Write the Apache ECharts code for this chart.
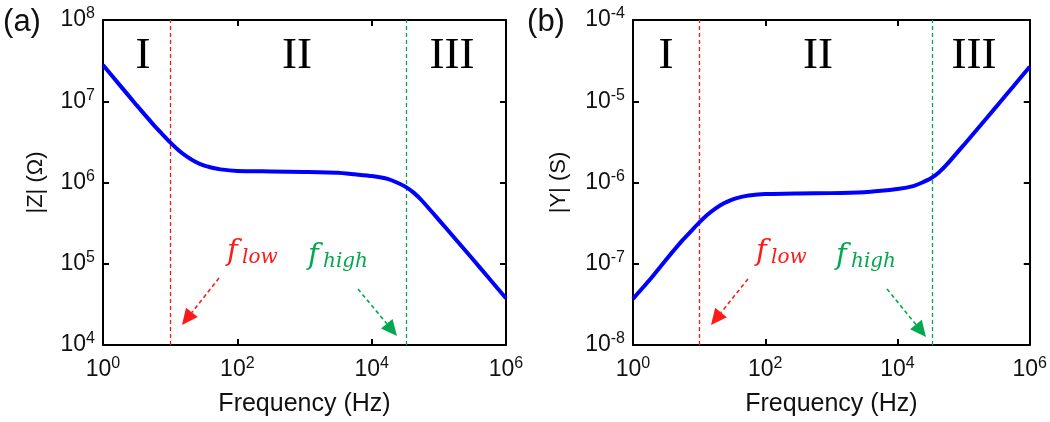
<!DOCTYPE html>
<html><head><meta charset="utf-8">
<script src="https://cdn.jsdelivr.net/npm/echarts@6/dist/echarts.min.js"></script>
<style>html,body{margin:0;padding:0;background:#fff}#c{width:1050px;height:422px}</style>
</head><body><div id="c"></div>
<script>
// ---- data ----
const freqHz = [1, 1.778, 3.162, 5.623, 7.499, 10, 13.34, 17.78, 23.71, 31.62, 42.17, 56.23, 100, 316.2, 1000, 3162, 5623, 10000, 17783, 23714, 31623, 42170, 56234, 100000, 177828, 316228, 562341, 1000000];
const impedanceOhm = [2.8e7, 1.58e7, 8.95e6, 5.16e6, 4.0e6, 3.12e6, 2.5e6, 2.08e6, 1.8e6, 1.62e6, 1.52e6, 1.45e6, 1.39e6, 1.37e6, 1.35e6, 1.32e6, 1.26e6, 1.2e6, 1.1e6, 1.0e6, 8.9e5, 7.5e5, 5.96e5, 3.47e5, 2.0e5, 1.15e5, 6.58e4, 3.76e4];
const admittanceS = [3.7e-8, 6.3e-8, 1.12e-7, 1.95e-7, 2.5e-7, 3.2e-7, 4.0e-7, 4.8e-7, 5.55e-7, 6.17e-7, 6.6e-7, 6.9e-7, 7.2e-7, 7.33e-7, 7.4e-7, 7.6e-7, 7.9e-7, 8.3e-7, 9.1e-7, 1.0e-6, 1.12e-6, 1.33e-6, 1.68e-6, 2.88e-6, 5.0e-6, 8.7e-6, 1.52e-5, 2.66e-5];
const cutoffLowHz = [10];
const cutoffHighHz = [33000];
const regionLabels = ['I', 'II', 'III'];
const panelLabels = ['(a)', '(b)'];
const axisNames = { x: 'Frequency (Hz)', yLeft: '|Z| (\u03A9)', yRight: '|Y| (S)' };
const xRange = [1, 1e6];
const zRange = [1e4, 1e8];
const yRange = [1e-8, 1e-4];

const SANS = 'Liberation Sans, Arial, sans-serif';
const SERIF = 'Liberation Serif, Times New Roman, serif';
const RED = '#ff1a1a', GREEN = '#00a84f', BLUE = '#0000ff';

function powLabel(v) {
  const e = Math.round(Math.log10(v));
  return '{b|10}{s|' + e + '}';
}
const richTick = {
  b: { fontSize: 23, fontFamily: SANS, color: '#111', lineHeight: 28 },
  s: { fontSize: 16, fontFamily: SANS, color: '#111', verticalAlign: 'top', lineHeight: 16 }
};

const grids = [
  { left: 103, top: 20, width: 403, height: 325 },
  { left: 633, top: 20, width: 398, height: 325 }
];

const axisLine = { show: true, lineStyle: { color: '#000', width: 2 } };
const tick = { show: true, inside: true, length: 6, lineStyle: { color: '#000', width: 2 } };

const xAxes = [], yAxes = [];
[0, 1].forEach(g => {
  xAxes.push({
    type: 'log', logBase: 10, gridIndex: g, position: 'bottom', min: xRange[0], max: xRange[1], interval: 2,
    axisLine, axisTick: tick, splitLine: { show: false }, minorTick: { show: false },
    axisLabel: { formatter: powLabel, rich: richTick, margin: 11 },
    name: axisNames.x, nameLocation: 'middle', nameGap: 47,
    nameTextStyle: { fontSize: 25, fontFamily: SANS, color: '#111' }
  });
  xAxes.push({
    type: 'log', logBase: 10, gridIndex: g, position: 'top', min: xRange[0], max: xRange[1], interval: 2,
    axisLine, axisTick: tick, splitLine: { show: false }, axisLabel: { show: false }
  });
  const yr = g === 0 ? zRange : yRange;
  yAxes.push({
    type: 'log', logBase: 10, gridIndex: g, position: 'left', min: yr[0], max: yr[1], interval: 1,
    axisLine, axisTick: tick, splitLine: { show: false },
    axisLabel: { formatter: powLabel, rich: richTick, margin: 8 },
    name: g === 0 ? axisNames.yLeft : axisNames.yRight, nameLocation: 'middle', nameGap: g === 0 ? 56 : 63,
    nameTextStyle: { fontSize: 22, fontFamily: SANS, color: '#111' }
  });
  yAxes.push({
    type: 'log', logBase: 10, gridIndex: g, position: 'right', min: yr[0], max: yr[1], interval: 1,
    axisLine, axisTick: tick, splitLine: { show: false }, axisLabel: { show: false }
  });
});

function vline(v, color) {
  return { xAxis: v, lineStyle: { color, type: [4, 3], width: 1.3 } };
}
const series = [
  {
    type: 'line', xAxisIndex: 0, yAxisIndex: 0, smooth: 0.2, showSymbol: false,
    lineStyle: { color: BLUE, width: 4 }, z: 5,
    data: freqHz.map((f, i) => [f, impedanceOhm[i]]),
    markLine: { silent: true, symbol: 'none', label: { show: false },
      data: [vline(cutoffLowHz[0], RED), vline(cutoffHighHz[0], GREEN)] }
  },
  {
    type: 'line', xAxisIndex: 2, yAxisIndex: 2, smooth: 0.2, showSymbol: false,
    lineStyle: { color: BLUE, width: 4 }, z: 5,
    data: freqHz.map((f, i) => [f, admittanceS[i]]),
    markLine: { silent: true, symbol: 'none', label: { show: false },
      data: [vline(cutoffLowHz[0], RED), vline(cutoffHighHz[0], GREEN)] }
  }
];

// annotations
function txt(x, y, text, size, color, family, extra) {
  return { type: 'text', x, y, style: Object.assign({ text, fontSize: size, fill: color, fontFamily: family, align: 'center', verticalAlign: 'middle' }, extra || {}) };
}
function arrow(x1, y1, x2, y2, color) {
  const dx = x2 - x1, dy = y2 - y1, L = Math.hypot(dx, dy), ux = dx / L, uy = dy / L;
  const hl = 16, hw = 7.5;
  const bx = x2 - ux * hl, by = y2 - uy * hl;
  return [
    { type: 'line', shape: { x1, y1, x2: bx, y2: by }, style: { stroke: color, lineWidth: 1.6, lineDash: [4, 3] } },
    { type: 'polygon', shape: { points: [[x2, y2], [bx - uy * hw, by + ux * hw], [bx + uy * hw, by - ux * hw]] }, style: { fill: color } }
  ];
}
const mathFont = 'DejaVu Serif, serif';
function fsub(x, y, sub, color) {
  return [
    txt(x, y, 'f', 29, color, mathFont, { align: 'left', fontStyle: 'italic' }),
    txt(x + 15, y + 6, sub, 20, color, mathFont, { align: 'left', fontStyle: 'italic' })
  ];
}
const graphic = [
  txt(22, 22, panelLabels[0], 31, '#111', SANS),
  txt(546, 22, panelLabels[1], 31, '#111', SANS),
  txt(143, 56, regionLabels[0], 45, '#000', SERIF),
  txt(297, 56, regionLabels[1], 45, '#000', SERIF),
  txt(452, 56, regionLabels[2], 45, '#000', SERIF),
  txt(666, 56, regionLabels[0], 45, '#000', SERIF),
  txt(818, 56, regionLabels[1], 45, '#000', SERIF),
  txt(974, 56, regionLabels[2], 45, '#000', SERIF),
  ...fsub(227, 252, 'low', RED),
  ...fsub(308, 256, 'high', GREEN),
  ...fsub(756, 252, 'low', RED),
  ...fsub(836, 256, 'high', GREEN),
  ...arrow(219, 278, 182, 325, RED),
  ...arrow(358, 289, 397, 336, GREEN),
  ...arrow(748, 279, 711, 325, RED),
  ...arrow(887, 289, 926, 337, GREEN)
];

const chart = echarts.init(document.getElementById('c'), null, { renderer: 'canvas' });
chart.setOption({
  backgroundColor: '#fff',
  animation: false,
  grid: grids,
  xAxis: xAxes,
  yAxis: yAxes,
  series,
  graphic
});
</script></body></html>
